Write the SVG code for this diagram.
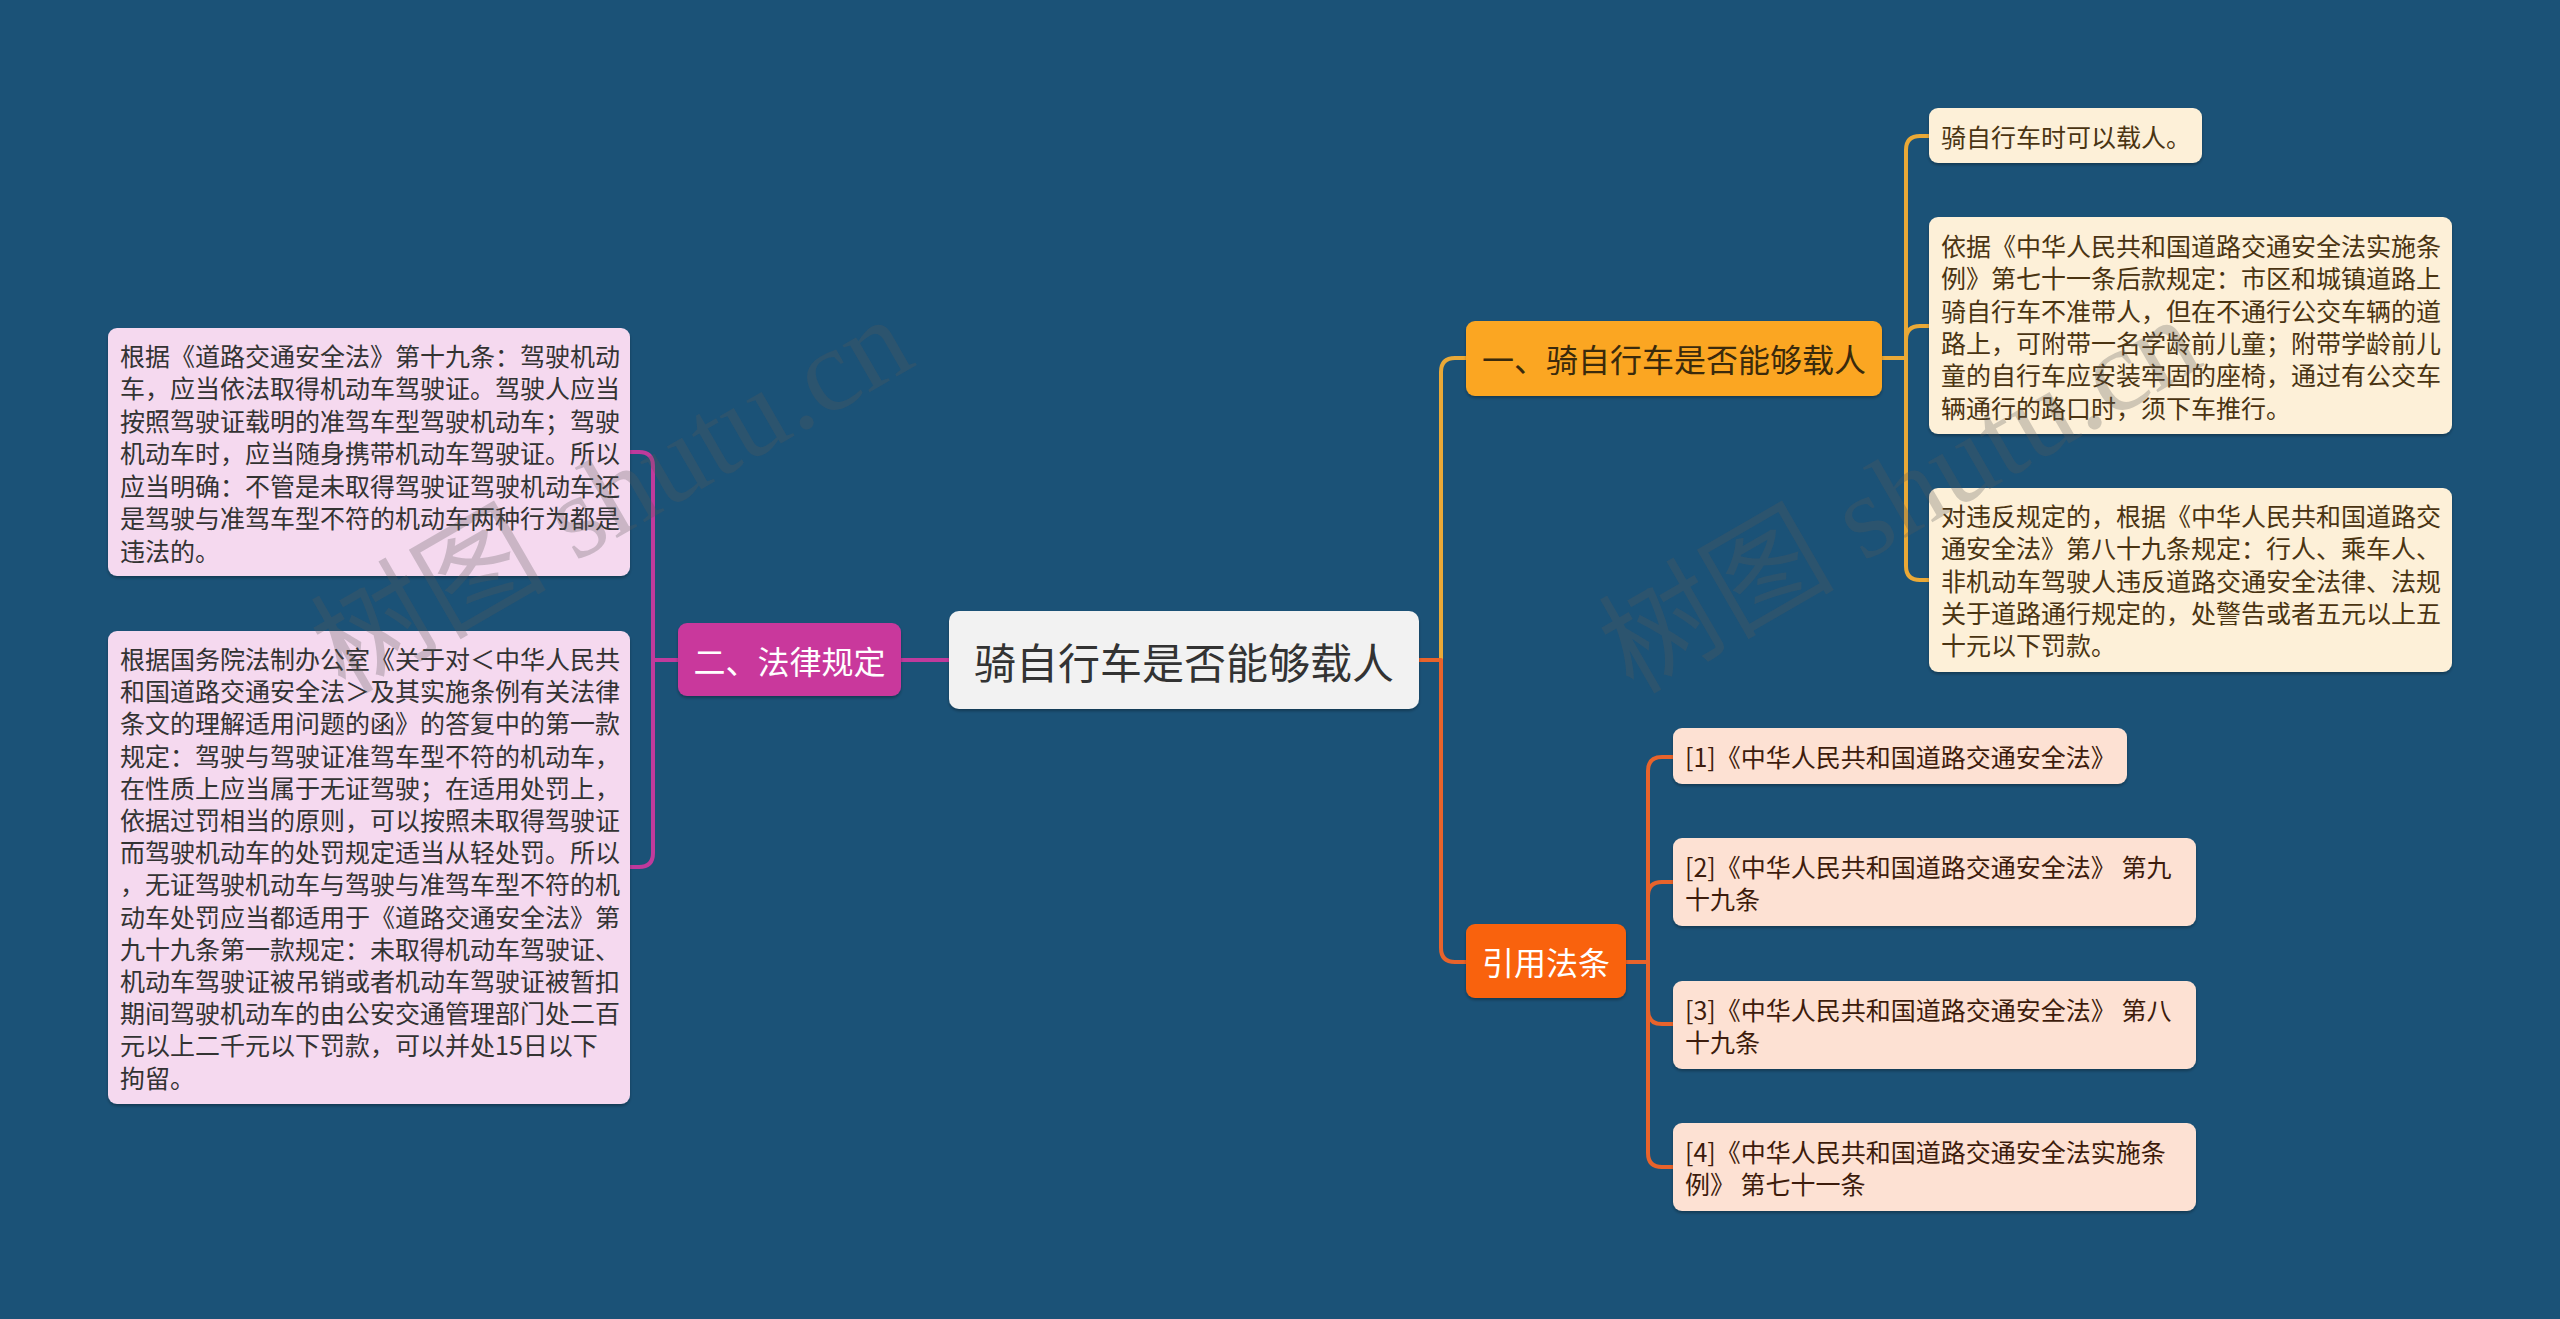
<svg xmlns="http://www.w3.org/2000/svg" width="2560" height="1319" viewBox="0 0 2560 1319">
<defs>
<filter id="sh" x="-5%" y="-5%" width="110%" height="120%">
<feDropShadow dx="0" dy="2" stdDeviation="1.5" flood-color="#000" flood-opacity="0.3"/>
</filter>
<style>
text{font-family:"Noto Sans CJK SC","Noto Sans",sans-serif;}
.t{font-size:25px;dominant-baseline:central;}
.m{font-size:32px;dominant-baseline:central;text-anchor:middle;}
.c{stroke-width:4;fill:none;stroke-linecap:round;stroke-linejoin:round;}
.wm{font-family:"Liberation Serif","Noto Sans CJK SC",serif;font-size:118px;fill:#5a5a5a;fill-opacity:0.28;}
</style>
</defs>
<rect width="2560" height="1319" fill="#1b5277"/>

<g id="connectors">
<path class="c" stroke="#c03a9c" d="M949 660 H901"/>
<path class="c" stroke="#c03a9c" d="M678 660 H653 M653 660 V466 Q653 452 639 452 H630 M653 660 V853 Q653 867 639 867 H630"/>
<path class="c" stroke="#eaa937" d="M1441 660 V372 Q1441 358 1455 358 H1466"/>
<path class="c" stroke="#e8632b" d="M1419 660 H1441 V948 Q1441 962 1455 962 H1466"/>
<path class="c" stroke="#eaa937" d="M1882 358 H1906 M1906 358 V150 Q1906 136 1920 136 H1929 M1906 358 V340 Q1906 326 1920 326 H1929 M1906 358 V566 Q1906 580 1920 580 H1929"/>
<path class="c" stroke="#e8632b" d="M1626 962 H1648 M1648 962 V771 Q1648 757 1662 757 H1673 M1648 962 V896 Q1648 882 1662 882 H1673 M1648 962 V1010 Q1648 1024 1662 1024 H1673 M1648 962 V1153 Q1648 1167 1662 1167 H1673"/>
</g>

<g id="root">
<rect x="949" y="611" width="470" height="98" rx="10" fill="#f2f2f2" filter="url(#sh)"/>
<text x="1184" y="660" style="font-size:42px;dominant-baseline:central;text-anchor:middle" fill="#333">骑自行车是否能够载人</text>
</g>

<g id="n-law">
<rect x="678" y="623" width="223" height="73" rx="9" fill="#c9389c" filter="url(#sh)"/>
<text class="m" x="789.5" y="660" fill="#fff">二、法律规定</text>
</g>

<g id="n-law-1">
<rect x="108" y="328" width="522" height="248" rx="9" fill="#f5d9ef" filter="url(#sh)"/>
<text class="t" fill="#333">
<tspan x="120" y="354.5">根据《道路交通安全法》第十九条：驾驶机动</tspan>
<tspan x="120" y="387">车，应当依法取得机动车驾驶证。驾驶人应当</tspan>
<tspan x="120" y="419.5">按照驾驶证载明的准驾车型驾驶机动车；驾驶</tspan>
<tspan x="120" y="452">机动车时，应当随身携带机动车驾驶证。所以</tspan>
<tspan x="120" y="484.5">应当明确：不管是未取得驾驶证驾驶机动车还</tspan>
<tspan x="120" y="517">是驾驶与准驾车型不符的机动车两种行为都是</tspan>
<tspan x="120" y="549.5">违法的。</tspan>
</text>
</g>

<g id="n-law-2">
<rect x="108" y="631" width="522" height="473" rx="9" fill="#f5d9ef" filter="url(#sh)"/>
<text class="t" fill="#333">
<tspan x="120" y="658">根据国务院法制办公室《关于对＜中华人民共</tspan>
<tspan x="120" y="690.2">和国道路交通安全法＞及其实施条例有关法律</tspan>
<tspan x="120" y="722.4">条文的理解适用问题的函》的答复中的第一款</tspan>
<tspan x="120" y="754.6">规定：驾驶与驾驶证准驾车型不符的机动车，</tspan>
<tspan x="120" y="786.8">在性质上应当属于无证驾驶；在适用处罚上，</tspan>
<tspan x="120" y="819">依据过罚相当的原则，可以按照未取得驾驶证</tspan>
<tspan x="120" y="851.2">而驾驶机动车的处罚规定适当从轻处罚。所以</tspan>
<tspan x="120" y="883.4">，无证驾驶机动车与驾驶与准驾车型不符的机</tspan>
<tspan x="120" y="915.6">动车处罚应当都适用于《道路交通安全法》第</tspan>
<tspan x="120" y="947.8">九十九条第一款规定：未取得机动车驾驶证、</tspan>
<tspan x="120" y="980">机动车驾驶证被吊销或者机动车驾驶证被暂扣</tspan>
<tspan x="120" y="1012.2">期间驾驶机动车的由公安交通管理部门处二百</tspan>
<tspan x="120" y="1044.4">元以上二千元以下罚款，可以并处15日以下</tspan>
<tspan x="120" y="1076.6">拘留。</tspan>
</text>
</g>

<g id="n-one">
<rect x="1466" y="321" width="416" height="75" rx="9" fill="#fba622" filter="url(#sh)"/>
<text class="m" x="1674" y="358" fill="#3a2a0c">一、骑自行车是否能够载人</text>
</g>

<g id="n-one-1">
<rect x="1929" y="108" width="273" height="55" rx="9" fill="#fdf0d8" filter="url(#sh)"/>
<text class="t" x="1941" y="136" fill="#4a3412">骑自行车时可以载人。</text>
</g>

<g id="n-one-2">
<rect x="1929" y="217" width="523" height="217" rx="9" fill="#fdf0d8" filter="url(#sh)"/>
<text class="t" fill="#4a3412">
<tspan x="1941" y="245">依据《中华人民共和国道路交通安全法实施条</tspan>
<tspan x="1941" y="277.3">例》第七十一条后款规定：市区和城镇道路上</tspan>
<tspan x="1941" y="309.6">骑自行车不准带人，但在不通行公交车辆的道</tspan>
<tspan x="1941" y="341.9">路上，可附带一名学龄前儿童；附带学龄前儿</tspan>
<tspan x="1941" y="374.2">童的自行车应安装牢固的座椅，通过有公交车</tspan>
<tspan x="1941" y="406.5">辆通行的路口时，须下车推行。</tspan>
</text>
</g>

<g id="n-one-3">
<rect x="1929" y="488" width="523" height="184" rx="9" fill="#fdf0d8" filter="url(#sh)"/>
<text class="t" fill="#4a3412">
<tspan x="1941" y="515">对违反规定的，根据《中华人民共和国道路交</tspan>
<tspan x="1941" y="547.3">通安全法》第八十九条规定：行人、乘车人、</tspan>
<tspan x="1941" y="579.6">非机动车驾驶人违反道路交通安全法律、法规</tspan>
<tspan x="1941" y="611.9">关于道路通行规定的，处警告或者五元以上五</tspan>
<tspan x="1941" y="644.2">十元以下罚款。</tspan>
</text>
</g>

<g id="n-cite">
<rect x="1466" y="924" width="160" height="74" rx="9" fill="#f9620f" filter="url(#sh)"/>
<text class="m" x="1546" y="961" fill="#fff">引用法条</text>
</g>

<g id="n-cite-1">
<rect x="1673" y="728" width="454" height="56" rx="9" fill="#fde1d3" filter="url(#sh)"/>
<text class="t" x="1685" y="756" fill="#3d1c0c">[1]《中华人民共和国道路交通安全法》</text>
</g>

<g id="n-cite-2">
<rect x="1673" y="838" width="523" height="88" rx="9" fill="#fde1d3" filter="url(#sh)"/>
<text class="t" fill="#3d1c0c">
<tspan x="1685" y="866">[2]《中华人民共和国道路交通安全法》 第九</tspan>
<tspan x="1685" y="898.3">十九条</tspan>
</text>
</g>

<g id="n-cite-3">
<rect x="1673" y="981" width="523" height="88" rx="9" fill="#fde1d3" filter="url(#sh)"/>
<text class="t" fill="#3d1c0c">
<tspan x="1685" y="1009">[3]《中华人民共和国道路交通安全法》 第八</tspan>
<tspan x="1685" y="1041.3">十九条</tspan>
</text>
</g>

<g id="n-cite-4">
<rect x="1673" y="1123" width="523" height="88" rx="9" fill="#fde1d3" filter="url(#sh)"/>
<text class="t" fill="#3d1c0c">
<tspan x="1685" y="1151">[4]《中华人民共和国道路交通安全法实施条</tspan>
<tspan x="1685" y="1183.3">例》 第七十一条</tspan>
</text>
</g>

<g id="watermarks">
<text class="wm" transform="translate(345 695) rotate(-30)">树图 shutu.cn</text>
<text class="wm" transform="translate(1633 695) rotate(-30)">树图 shutu.cn</text>
</g>
</svg>
